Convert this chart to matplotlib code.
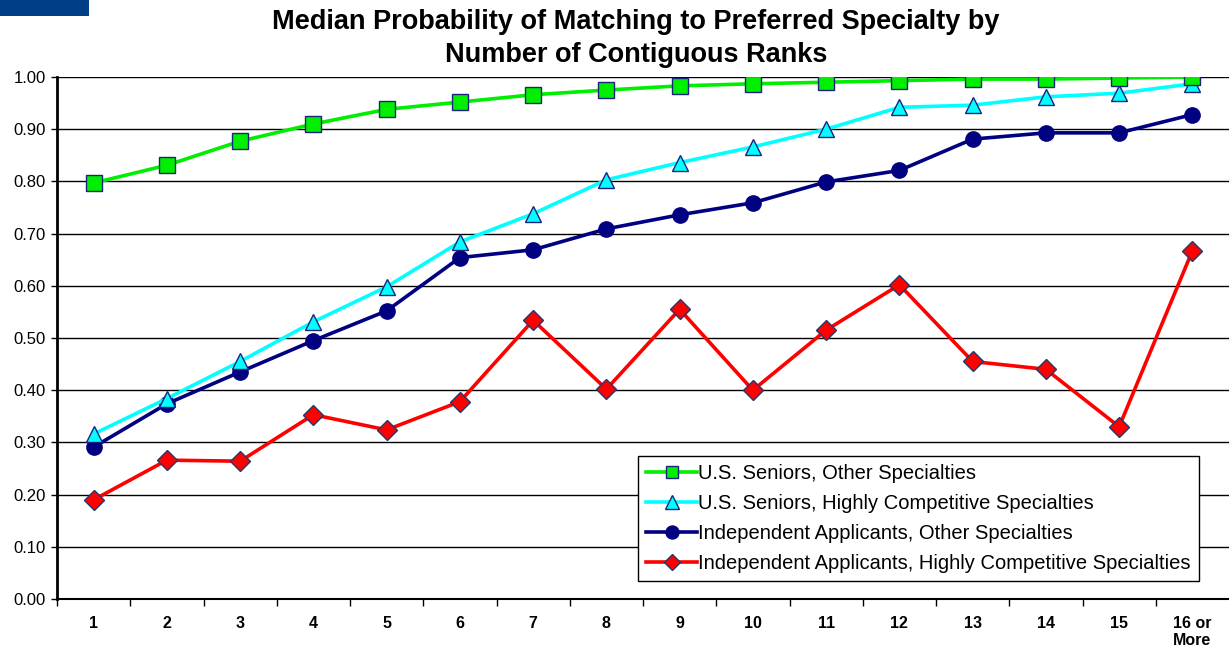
import matplotlib
matplotlib.use("Agg")
import matplotlib.pyplot as plt
from matplotlib.patches import Rectangle

plt.rcParams['font.family'] = ['Liberation Sans', 'DejaVu Sans']

categories = ["1", "2", "3", "4", "5", "6", "7", "8", "9", "10", "11", "12", "13", "14", "15", "16 or\nMore"]

us_other = [0.797, 0.831, 0.877, 0.910, 0.938, 0.952, 0.966, 0.975, 0.983, 0.987, 0.990, 0.993, 0.996, 0.996, 0.998, 1.000]
us_comp = [0.316, 0.384, 0.455, 0.531, 0.598, 0.684, 0.738, 0.803, 0.836, 0.866, 0.900, 0.942, 0.946, 0.962, 0.969, 0.987]
ind_other = [0.291, 0.374, 0.435, 0.495, 0.552, 0.654, 0.669, 0.709, 0.736, 0.759, 0.799, 0.821, 0.881, 0.893, 0.893, 0.928]
ind_comp = [0.190, 0.266, 0.264, 0.353, 0.324, 0.378, 0.534, 0.402, 0.555, 0.400, 0.515, 0.602, 0.455, 0.440, 0.330, 0.667]

series_labels = ["U.S. Seniors, Other Specialties",
                 "U.S. Seniors, Highly Competitive Specialties",
                 "Independent Applicants, Other Specialties",
                 "Independent Applicants, Highly Competitive Specialties"]

title_lines = ["Median Probability of Matching to Preferred Specialty by",
               "Number of Contiguous Ranks"]

y_ticks = [0.0, 0.1, 0.2, 0.3, 0.4, 0.5, 0.6, 0.7, 0.8, 0.9, 1.0]

W, H = 1229, 652
fig = plt.figure(figsize=(W / 100, H / 100), dpi=100)
ax = fig.add_axes([57 / W, 1 - 599 / H, (1229 - 57) / W, (599 - 77) / H])

x = list(range(1, len(categories) + 1))
edge = "#1a237e"
ax.plot(x, us_other, color="#00ee00", lw=2.6, marker="s", ms=11, mfc="#00ee00", mec=edge, mew=1.0,
        label=series_labels[0], zorder=6)
ax.plot(x, us_comp, color="#00ffff", lw=2.6, marker="^", ms=12, mfc="#00ffff", mec=edge, mew=1.0,
        label=series_labels[1], zorder=5)
ax.plot(x, ind_other, color="#000080", lw=2.6, marker="o", ms=11, mfc="#000080", mec="#000080", mew=1.0,
        label=series_labels[2], zorder=4)
ax.plot(x, ind_comp, color="#ff0000", lw=2.6, marker="D", ms=10, mfc="#ff0000", mec="#1f3b6e", mew=1.0,
        label=series_labels[3], zorder=3)

ax.set_xlim(0.5, len(categories) + 0.5)
ax.set_ylim(0, 1.0)
ax.set_yticks(y_ticks)
ax.set_yticklabels([f"{v:.2f}" for v in y_ticks], fontsize=12)
ax.set_xticks(x)
ax.set_xticklabels(categories, fontsize=11.5, fontweight="bold", va="top")
ax.tick_params(axis="x", length=0, pad=12)
ax.set_xticks([i + 0.5 for i in range(0, len(categories))], minor=True)
ax.tick_params(axis="x", which="minor", length=5, width=1, color="black", direction="out")
ax.tick_params(axis="y", length=4, width=1, direction="out", pad=4)

ax.grid(axis="y", color="black", lw=1.0)
ax.set_axisbelow(True)
for s in ["top", "right"]:
    ax.spines[s].set_visible(False)
ax.spines["left"].set_linewidth(2.0)
ax.spines["bottom"].set_linewidth(1.5)

leg = ax.legend(loc="lower right", bbox_to_anchor=((1199 - 57) / (1229 - 57), (599 - 581) / (599 - 77)),
                fontsize=14.5, frameon=True, fancybox=False, edgecolor="black", framealpha=1,
                handlelength=2.5, handletextpad=0.08, borderpad=0.4, labelspacing=0.55, markerscale=0.85,
                borderaxespad=0)
leg.get_frame().set_linewidth(1.0)

fig.text(636 / W, 1 - 22 / H, title_lines[0], ha="center", va="center",
         fontsize=19.5, fontweight="bold")
fig.text(636 / W, 1 - 55 / H, title_lines[1], ha="center", va="center",
         fontsize=19.5, fontweight="bold")

fig.add_artist(Rectangle((0, 1 - 16 / H), 89 / W, 16 / H, transform=fig.transFigure,
                         facecolor="#003f87", edgecolor="none"))

fig.savefig("out.png", dpi=100)
